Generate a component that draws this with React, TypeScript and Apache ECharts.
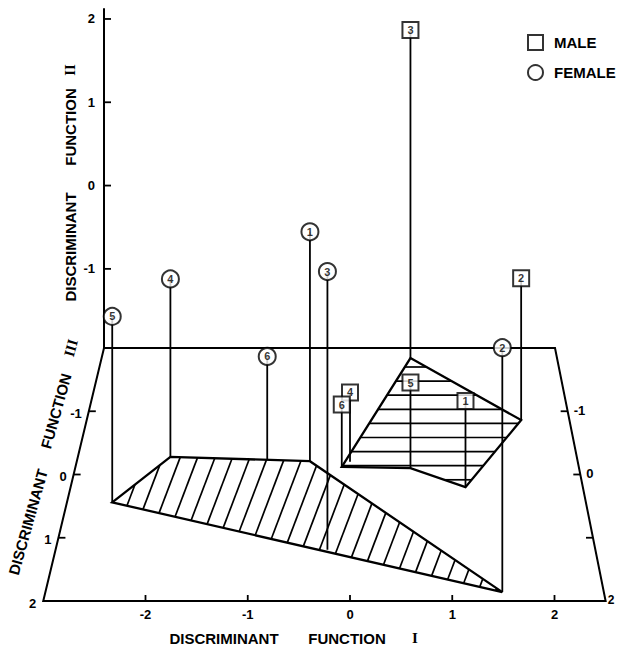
import React, { useEffect, useRef } from "react";
import * as echarts from "echarts";

const W = 617;
const H = 651;

// ---- values: DF I (across), DF III (depth), DF II (height)
const maleLabels = ["1", "2", "3", "4", "5", "6"];
const maleDF1 = [1.24, 1.95, 0.73, 0.0, 0.66, -0.09];
const maleDF3 = [0.2, -0.86, -1.84, -0.2, -0.1, -0.12];
const maleDF2 = [-1.04, -0.36, 1.95, -1.2, -1.03, -1.28];
const maleHullOrder = [5, 4, 0, 1, 2]; // groups 6,5,1,2,3

const femaleLabels = ["1", "2", "3", "4", "5", "6"];
const femaleDF1 = [-0.44, 1.5, -0.23, -1.98, -2.52, -0.91];
const femaleDF3 = [-0.21, 1.86, 1.19, -0.28, 0.44, -0.23];
const femaleDF2 = [0.53, 0.42, 0.84, -0.02, -0.01, -0.83];
const femaleHullOrder = [4, 3, 0, 1]; // groups 5,4,1,2

const df1Ticks = [-2, -1, 0, 1, 2];
const df2Ticks = [-1, 0, 1, 2];
const df3Ticks = [-1, 0, 1, 2];
const df3LeftLabels = ["-1", "0", "1", "2"];
const df3RightLabels = ["-1", "0", "", "2"];
const df1Range = [-3, 2.5];
const df3Range = [-2, 2];
const df2Range = [-1.95, 2.13];

// ---- projection (layout) constants
const VANISH_X = 350;
const BACK_Y = 348;
const DEPTH_PX = 63.25;
const K_BACK = 82;
const K_FRONT = 102.25;
const V_BACK = 83.3;

const FONT = '"Liberation Sans", Arial, Helvetica, sans-serif';
const SERIF = '"Liberation Serif", "DejaVu Serif", serif';

function P(x: number, z: number, h: number = df2Range[0]): number[] {
  const t = (z - df3Range[0]) / (df3Range[1] - df3Range[0]);
  const k = K_BACK + t * (K_FRONT - K_BACK);
  const yF = BACK_Y + (z - df3Range[0]) * DEPTH_PX;
  const v = (V_BACK * k) / K_BACK;
  return [VANISH_X + x * k, yF - (h - df2Range[0]) * v];
}

function hatchLines(pts: number[][], dir: number[], spacing: number, through: number[]) {
  const L = Math.hypot(dir[0], dir[1]);
  const d = [dir[0] / L, dir[1] / L];
  const n = [-d[1], d[0]];
  const dots = pts.map((p) => p[0] * n[0] + p[1] * n[1]);
  const c0 = through[0] * n[0] + through[1] * n[1];
  const lo = Math.min(...dots);
  const hi = Math.max(...dots);
  const segs: number[][][] = [];
  for (let c = c0 + Math.ceil((lo - c0) / spacing) * spacing; c < hi; c += spacing) {
    const hits: number[][] = [];
    for (let i = 0; i < pts.length; i++) {
      const j = (i + 1) % pts.length;
      const a = dots[i] - c;
      const b = dots[j] - c;
      if ((a < 0 && b >= 0) || (a >= 0 && b < 0)) {
        const t = a / (a - b);
        hits.push([pts[i][0] + t * (pts[j][0] - pts[i][0]), pts[i][1] + t * (pts[j][1] - pts[i][1])]);
      }
    }
    hits.sort((p, q) => p[0] * d[0] + p[1] * d[1] - (q[0] * d[0] + q[1] * d[1]));
    for (let k = 0; k + 1 < hits.length; k += 2) segs.push([hits[k], hits[k + 1]]);
  }
  return segs;
}

function ln(a: number[], b: number[], w = 2) {
  return {
    type: "line",
    shape: { x1: a[0], y1: a[1], x2: b[0], y2: b[1] },
    style: { stroke: "#000", lineWidth: w },
  };
}

function tx(text: string, x: number, y: number, align: string, size = 13) {
  return {
    type: "text",
    x,
    y,
    style: {
      text,
      fill: "#000",
      font: `bold ${size}px ${FONT}`,
      textAlign: align,
      textVerticalAlign: "middle",
    },
  };
}

function buildOption() {
  const maleTop = maleDF1.map((x, i) => [...P(x, maleDF3[i], maleDF2[i]), maleLabels[i]]);
  const femaleTop = femaleDF1.map((x, i) => [...P(x, femaleDF3[i], femaleDF2[i]), femaleLabels[i]]);
  const stems = [
    ...maleDF1.map((x, i) => [...P(x, maleDF3[i]), ...P(x, maleDF3[i], maleDF2[i])]),
    ...femaleDF1.map((x, i) => [...P(x, femaleDF3[i]), ...P(x, femaleDF3[i], femaleDF2[i])]),
  ];
  const hulls = [
    {
      pts: maleHullOrder.map((i) => P(maleDF1[i], maleDF3[i])),
      dir: [1, 0],
      spacing: 14.1,
      through: [400, 367],
    },
    {
      pts: femaleHullOrder.map((i) => P(femaleDF1[i], femaleDF3[i])),
      dir: [0.38, -1],
      spacing: 16.3,
      through: [197, 459],
    },
  ];

  const frameRender = (_params: any, api: any) => {
    const c = (x: number, z: number, h: number = df2Range[0]) => api.coord(P(x, z, h));
    const [x0, x1] = df1Range;
    const [z0, z1] = df3Range;
    const children: any[] = [];
    children.push({
      type: "polygon",
      shape: { points: [c(x0, z0), c(x1, z0), c(x1, z1), c(x0, z1)] },
      style: { fill: "none", stroke: "#000", lineWidth: 2 },
    });
    children.push(ln(c(x0, z0, df2Range[0]), c(x0, z0, df2Range[1]), 2));
    df2Ticks.forEach((t) => {
      const p = c(x0, z0, t);
      children.push(ln(p, [p[0] + 7, p[1]], 1.8));
      children.push(tx(String(t), p[0] - 9, p[1], "right"));
    });
    df1Ticks.forEach((t) => {
      const p = c(t, z1);
      children.push(ln(p, [p[0], p[1] - 6], 1.8));
      children.push(tx(String(t), p[0], p[1] + 13, "center"));
    });
    df3Ticks.forEach((t, i) => {
      const p = c(x0, t);
      const q = c(x1, t);
      const corner = t >= z1;
      if (!corner) {
        children.push(ln(p, [p[0] + 7, p[1]], 1.8));
        children.push(ln(q, [q[0] - 7, q[1]], 1.8));
      }
      children.push(tx(df3LeftLabels[i], p[0] - 7, p[1] + 2, "right"));
      if (df3RightLabels[i])
        children.push(tx(df3RightLabels[i], q[0] + (corner ? 2 : 6), q[1] - 1, "left", corner ? 12 : 13));
    });
    return { type: "group", children };
  };

  const hullRender = (params: any, api: any) => {
    const h = hulls[params.dataIndex];
    const pts = h.pts.map((p) => api.coord(p));
    const children: any[] = [
      {
        type: "polygon",
        shape: { points: pts },
        style: { fill: "none", stroke: "#000", lineWidth: 2.3 },
      },
    ];
    hatchLines(pts, h.dir, h.spacing, h.through).forEach((s) => children.push(ln(s[0], s[1], 1.7)));
    return { type: "group", children };
  };

  const stemRender = (_params: any, api: any) => {
    const a = api.coord([api.value(0), api.value(1)]);
    const b = api.coord([api.value(2), api.value(3)]);
    return ln(a, b, 1.8);
  };

  const markerStyle = { color: "#fff", borderColor: "#000", borderWidth: 2 };
  const markerLabel = {
    show: true,
    position: "inside",
    formatter: (p: any) => p.value[2],
    fontFamily: FONT,
    fontWeight: "bold",
    fontSize: 11,
    color: "#000",
  };

  const word = (text: string, x: number, y: number, rot: number, font = FONT) => ({
    type: "text",
    x,
    y,
    rotation: rot,
    style: {
      text,
      fill: "#000",
      font: `bold 15px ${font}`,
      textAlign: "center",
      textVerticalAlign: "middle",
    },
  });
  const slant = (74.3 * Math.PI) / 180;

  return {
    animation: false,
    grid: { left: 0, right: 0, top: 0, bottom: 0 },
    xAxis: { type: "value", min: 0, max: W, show: false },
    yAxis: { type: "value", min: 0, max: H, inverse: true, show: false },
    legend: {
      orient: "vertical",
      left: 522,
      top: 29,
      itemWidth: 15,
      itemHeight: 15,
      itemGap: 13,
      selectedMode: false,
      data: [
        { name: "MALE", icon: "rect" },
        { name: "FEMALE", icon: "circle" },
      ],
      itemStyle: markerStyle,
      textStyle: { fontFamily: FONT, fontSize: 15, fontWeight: "bold", color: "#000", padding: [0, 0, 0, 6] },
    },
    graphic: [
      word("DISCRIMINANT", 70, 247, Math.PI / 2),
      word("FUNCTION", 70, 127, Math.PI / 2),
      word("II", 70, 70, Math.PI / 2, SERIF),
      word("DISCRIMINANT", 224, 638, 0),
      word("FUNCTION", 347, 638, 0),
      word("I", 415, 638, 0, SERIF),
      word("DISCRIMINANT", 28, 522, slant),
      word("FUNCTION", 56, 411, slant),
      word("III", 71, 348, slant, SERIF),
    ],
    series: [
      { type: "custom", name: "frame", data: [[0, 0]], renderItem: frameRender, silent: true, z: 1 },
      { type: "custom", name: "hulls", data: [[0, 0], [1, 0]], renderItem: hullRender, silent: true, z: 2 },
      {
        type: "custom",
        name: "stems",
        data: stems,
        encode: { x: [0, 2], y: [1, 3] },
        renderItem: stemRender,
        silent: true,
        z: 3,
      },
      {
        type: "scatter",
        name: "MALE",
        data: maleTop,
        symbol: "rect",
        symbolSize: 16,
        itemStyle: markerStyle,
        label: markerLabel,
        silent: true,
        z: 5,
      },
      {
        type: "scatter",
        name: "FEMALE",
        data: femaleTop,
        symbol: "circle",
        symbolSize: 17,
        itemStyle: markerStyle,
        label: markerLabel,
        silent: true,
        z: 5,
      },
    ],
  };
}

export default function App() {
  const ref = useRef<HTMLDivElement>(null);
  useEffect(() => {
    const chart = echarts.init(ref.current as HTMLDivElement, null, { renderer: "svg" });
    chart.setOption(buildOption() as any);
    return () => chart.dispose();
  }, []);
  return (
    <div
      ref={ref}
      style={{ position: "fixed", left: 0, top: 0, width: W, height: H, background: "#fff" }}
    />
  );
}
